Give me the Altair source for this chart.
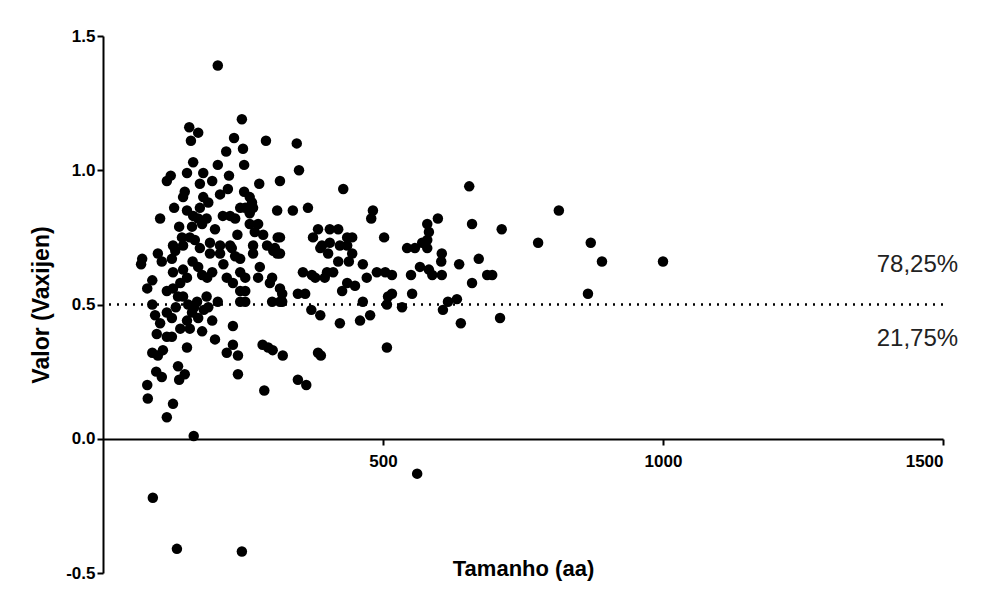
import altair as alt
import pandas as pd

# Protein size (aa) and VaxiJen score
tamanho = [
    205, 154, 170, 157, 234, 250, 220, 161, 205, 252, 121, 114, 150, 179, 225, 173, 195, 146, 143, 179,
    188, 173, 209, 223, 252, 127, 102, 150, 161, 170, 177, 214, 227, 236, 136, 141, 159, 155, 164, 125,
    143, 191, 209, 227, 70, 68, 98, 105, 129, 123, 125, 143, 173, 191, 209, 230, 236, 170, 177, 186,
    88, 79, 114, 138, 134, 221, 232, 245, 254, 88, 93, 102, 114, 123, 152, 168, 159, 170, 150, 188,
    205, 138, 155, 177, 96, 114, 123, 200, 150, 232, 221, 241, 88, 98, 107, 95, 105, 134, 146, 136,
    241, 79, 80, 125, 114, 162, 89, 132, 248, 232, 180, 195, 163, 143, 185, 130, 195, 215, 160, 150,
    200, 185, 240, 245, 125,
    248, 291, 346, 350, 279, 316, 429, 262, 266, 254, 268, 262, 311, 339, 366, 482, 479, 262, 277, 271,
    286, 312, 384, 405, 420, 436, 445, 375, 391, 405, 423, 268, 293, 307, 268, 304, 311, 245, 280, 277,
    302, 298, 254, 316, 320, 245, 245, 254, 302, 320, 348, 361, 372, 388, 423, 459, 477, 357, 373, 379,
    396, 400, 411, 388, 402, 436, 420, 439, 445, 464, 471, 489, 427, 436, 450, 464, 316, 316, 316, 285,
    295, 303, 321, 348, 363, 288, 384, 389,
    507, 502, 504, 516, 509, 516, 507, 543, 557, 570, 579, 579, 579, 582, 598, 605, 604, 550, 566, 582,
    588, 605, 552, 534, 616, 632, 607, 639, 636, 654, 659, 671, 659, 686, 695, 712, 709, 777, 814, 871,
    891, 866, 1000, 561,
]
valor = [
    1.39, 1.16, 1.14, 1.11, 1.12, 1.08, 1.07, 1.03, 1.02, 1.02, 0.98, 0.96, 0.99, 0.99, 0.98, 0.95, 0.96, 0.92, 0.90, 0.90,
    0.88, 0.86, 0.91, 0.93, 0.92, 0.86, 0.82, 0.85, 0.83, 0.82, 0.80, 0.83, 0.83, 0.82, 0.79, 0.75, 0.79, 0.75, 0.74, 0.72,
    0.72, 0.73, 0.72, 0.72, 0.67, 0.65, 0.69, 0.66, 0.70, 0.67, 0.62, 0.63, 0.71, 0.69, 0.69, 0.71, 0.68, 0.64, 0.61, 0.60,
    0.59, 0.56, 0.55, 0.58, 0.53, 0.60, 0.58, 0.62, 0.55, 0.50, 0.46, 0.43, 0.47, 0.45, 0.50, 0.51, 0.47, 0.45, 0.44, 0.49,
    0.51, 0.41, 0.41, 0.40, 0.39, 0.38, 0.38, 0.37, 0.34, 0.42, 0.32, 0.31, 0.32, 0.31, 0.33, 0.25, 0.23, 0.27, 0.24, 0.22,
    0.24, 0.20, 0.15, 0.13, 0.08, 0.01, -0.22, -0.41, -0.42, 0.35, 0.48, 0.44, 0.49, 0.53, 0.53, 0.49, 0.62, 0.65, 0.66, 0.60,
    0.78, 0.82, 0.76, 0.86, 0.56,
    1.19, 1.11, 1.10, 1.00, 0.95, 0.96, 0.93, 0.90, 0.88, 0.86, 0.86, 0.84, 0.85, 0.85, 0.86, 0.85, 0.82, 0.80, 0.80, 0.77,
    0.76, 0.75, 0.78, 0.78, 0.78, 0.75, 0.75, 0.75, 0.72, 0.73, 0.72, 0.72, 0.72, 0.71, 0.69, 0.70, 0.69, 0.67, 0.64, 0.60,
    0.60, 0.58, 0.60, 0.56, 0.54, 0.55, 0.51, 0.51, 0.51, 0.51, 0.54, 0.54, 0.48, 0.46, 0.43, 0.44, 0.46, 0.62, 0.61, 0.60,
    0.60, 0.62, 0.62, 0.71, 0.69, 0.72, 0.66, 0.66, 0.69, 0.65, 0.60, 0.62, 0.55, 0.58, 0.57, 0.51, 0.51, 0.69, 0.75, 0.35,
    0.34, 0.33, 0.31, 0.22, 0.20, 0.18, 0.32, 0.31,
    0.34, 0.75, 0.62, 0.61, 0.53, 0.54, 0.50, 0.71, 0.71, 0.73, 0.71, 0.74, 0.80, 0.77, 0.82, 0.69, 0.66, 0.61, 0.64, 0.63,
    0.61, 0.61, 0.54, 0.49, 0.51, 0.52, 0.48, 0.43, 0.65, 0.94, 0.80, 0.67, 0.58, 0.61, 0.61, 0.78, 0.45, 0.73, 0.85, 0.73,
    0.66, 0.54, 0.66, -0.13,
]

# Threshold and share labels
limiar = 0.5
rotulos = ["78,25%", "21,75%"]
rotulo_x = [1527, 1527]
rotulo_y = [0.648, 0.37]

x_ticks = [500, 1000, 1500]
y_ticks = [-0.5, 0.0, 0.5, 1.0, 1.5]

df = pd.DataFrame({"Tamanho": tamanho, "Valor": valor})
df_lab = pd.DataFrame({"t": rotulos, "x": rotulo_x, "y": rotulo_y})

FONT = "Liberation Sans"
x_scale = alt.Scale(domain=[0, 1500], nice=False, zero=False)
y_scale = alt.Scale(domain=[-0.5, 1.5], nice=False, zero=False)

points = alt.Chart(df).mark_circle(size=110, color="black", opacity=1).encode(
    x=alt.X("Tamanho:Q", scale=x_scale,
            axis=alt.Axis(values=x_ticks, offset=-134, title="Tamanho (aa)",
                          titleY=129, titleBaseline="middle", labelPadding=8,
                          titleFontSize=22, format="d")),
    y=alt.Y("Valor:Q", scale=y_scale,
            axis=alt.Axis(values=y_ticks, title="Valor (Vaxijen)",
                          labelExpr="datum.value < 0 ? '-' + format(-datum.value, '.1f') : format(datum.value, '.1f')",
                          titleFontSize=23, titlePadding=12)),
)

rule = alt.Chart(pd.DataFrame({"y": [limiar]})).mark_rule(
    color="black", strokeDash=[2, 6], strokeWidth=2.5
).encode(y=alt.Y("y:Q", scale=y_scale))

labels = alt.Chart(df_lab).mark_text(
    font=FONT, fontSize=24, align="right", baseline="middle", color="#222222"
).encode(
    x=alt.X("x:Q", scale=x_scale),
    y=alt.Y("y:Q", scale=y_scale),
    text="t:N",
)

chart = alt.layer(rule, points, labels).properties(
    width=840, height=537,
    autosize=alt.AutoSizeParams(type="none"),
    padding={"left": 95, "top": 28, "right": 30, "bottom": 12},
    background="white",
).configure_view(stroke=None).configure_axis(
    grid=False,
    domainColor="black", domainWidth=2,
    tickColor="black", tickWidth=2, tickSize=6,
    labelFont=FONT, labelFontWeight="bold", labelFontSize=17, labelColor="black",
    titleFont=FONT, titleFontWeight="bold", titleColor="black",
)

chart.save("out.html", embed_options={"renderer": "svg", "actions": False})
